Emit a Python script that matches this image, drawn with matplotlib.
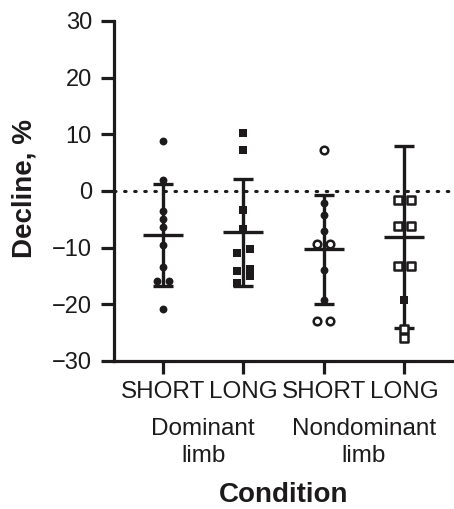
import matplotlib
matplotlib.use('Agg')
import matplotlib.pyplot as plt
import numpy as np

plt.rcParams['font.family'] = ['Liberation Sans', 'DejaVu Sans']

ink = '#1c1a1b'

# Categories and group labels
conditions = ['SHORT', 'LONG', 'SHORT', 'LONG']
limbs = ['Dominant\nlimb', 'Nondominant\nlimb']

# Individual declines (%), with open/filled marker flags
dom_short = [8.8, 1.9, -3.5, -5.0, -6.3, -9.5, -13.4, -15.9, -15.9, -20.8]
dom_short_open = [0] * 10
dom_long = [10.3, 7.3, -3.3, -6.7, -10.3, -10.9, -13.8, -14.1, -15.1, -16.3]
dom_long_open = [0] * 10
nondom_short = [7.2, -2.1, -4.3, -7.0, -9.3, -9.3, -14.0, -19.2, -22.9, -22.9]
nondom_short_open = [1, 0, 0, 0, 1, 1, 0, 0, 1, 1]
nondom_long = [-1.6, -1.6, -6.2, -6.2, -13.3, -13.3, -19.2, -24.4, -26.0]
nondom_long_open = [1, 1, 1, 1, 1, 1, 0, 1, 1]

# Mean and SD shown by the bars
means = [-7.8, -7.3, -10.3, -8.15]
sds = [9.0, 9.4, 9.6, 16.05]

groups = [dom_short, dom_long, nondom_short, nondom_long]
opens = [dom_short_open, dom_long_open, nondom_short_open, nondom_long_open]
markers = ['o', 's', 'o', 's']


def swarm_offsets(vals, thr=1.25, d=0.08):
    """Spread points that nearly overlap to alternating sides."""
    vals = np.asarray(vals, float)
    order = np.argsort(-vals)
    offs = np.zeros(len(vals))
    clusters = [[order[0]]]
    for i in order[1:]:
        if vals[clusters[-1][-1]] - vals[i] < thr:
            clusters[-1].append(i)
        else:
            clusters.append([i])
    for c in clusters:
        if len(c) > 1:
            for k, i in enumerate(c):
                offs[i] = d if k % 2 == 0 else -d
    return offs


fig = plt.figure(figsize=(4.54, 5.09), dpi=100)
ax = fig.add_axes([0.25, 0.291, 0.75, 0.668])

ax.axhline(0, color=ink, lw=2.2, ls=(0, (0.5, 2.8)), dash_capstyle='round', zorder=1)

for i, (vals, op, m) in enumerate(zip(groups, opens, markers)):
    offs = swarm_offsets(vals)
    vals = np.asarray(vals)
    op = np.asarray(op, bool)
    ax.errorbar(i, means[i], yerr=sds[i], fmt='none', ecolor=ink, elinewidth=2.4,
                capsize=7.3, capthick=2.4, zorder=2)
    ax.hlines(means[i], i - 0.25, i + 0.25, color=ink, lw=2.4, zorder=2)
    ax.scatter(i + offs[~op], vals[~op], marker=m, s=32, color=ink, lw=0, zorder=3)
    ax.scatter(i + offs[op], vals[op], marker=m, s=30, facecolor='white',
               edgecolor=ink, lw=1.8, zorder=3)

ax.set_xlim(-0.616, 3.62)
ax.set_ylim(-30, 30)
ax.set_yticks(np.arange(-30, 31, 10))
ax.set_xticks(range(len(conditions)))
ax.set_xticklabels(conditions)

for side in ['top', 'right']:
    ax.spines[side].set_visible(False)
for side in ['left', 'bottom']:
    ax.spines[side].set_linewidth(2.3)
    ax.spines[side].set_color(ink)
    ax.spines[side].set_capstyle('projecting')

ax.tick_params(axis='both', length=9.5, width=2.3, color=ink, labelcolor=ink, pad=6)
ax.tick_params(axis='y', labelsize=17)
ax.tick_params(axis='x', labelsize=17.5, pad=5)

for k, lab in enumerate(limbs):
    ax.text(2 * k + 0.5, -0.2395, lab, transform=ax.get_xaxis_transform(),
            ha='center', va='center', fontsize=17.5, color=ink, linespacing=1.3)

ax.set_ylabel('Decline, %', fontsize=20, fontweight='bold', color=ink)
ax.yaxis.set_label_coords(-0.26, 0.508)
ax.yaxis.label.set_va('center')
ax.set_xlabel('Condition', fontsize=20, fontweight='bold', color=ink)
ax.xaxis.set_label_coords(0.5, -0.394)
ax.xaxis.label.set_va('center')

fig.savefig('out.png', dpi=100)
